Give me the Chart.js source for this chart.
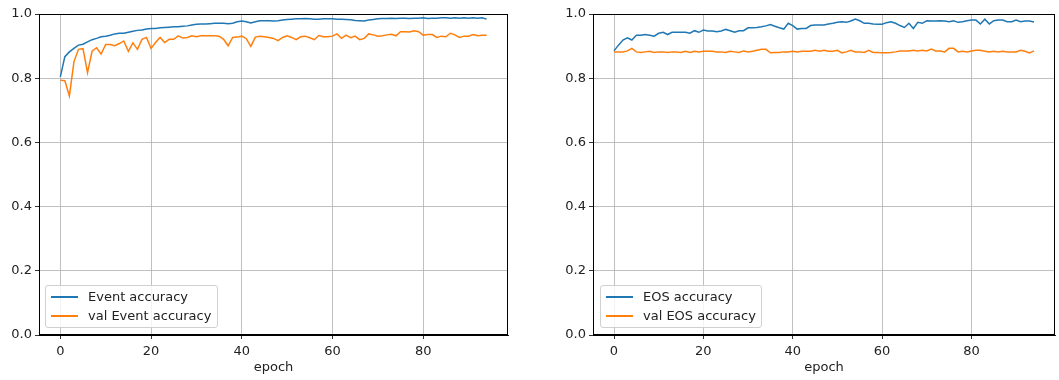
<!DOCTYPE html>
<html>
<head>
<meta charset="utf-8">
<script src="https://cdn.jsdelivr.net/npm/chart.js@4/dist/chart.umd.min.js"></script>
<style>
  html, body { margin:0; padding:0; background:#fff; width:1059px; height:380px; overflow:hidden; }
  canvas { position:absolute; top:0; }
  .leg { position:absolute; box-sizing:border-box; border:1px solid #d0d0d0; border-radius:3px;
         background:rgba(255,255,255,0.8); font-family:"DejaVu Sans", sans-serif; font-size:13px; color:#222; z-index:5; }
  .row { position:absolute; left:0; height:16px; line-height:16px; white-space:nowrap; }
  .sw { position:absolute; left:5px; top:7px; width:27px; height:2px; }
  .tx { position:absolute; left:42px; top:0; }
</style>
</head>
<body>
<canvas id="c1" width="530" height="380" style="left:0"></canvas>
<canvas id="c2" width="505" height="380" style="left:554px"></canvas>
<div class="leg" style="left:45px; top:285px; width:173px; height:43px;">
  <div class="row" style="top:3px"><div class="sw" style="background:#1f77b4"></div><div class="tx">Event accuracy</div></div>
  <div class="row" style="top:22px"><div class="sw" style="background:#ff7f0e"></div><div class="tx">val Event accuracy</div></div>
</div>
<div class="leg" style="left:600px; top:285px; width:162px; height:43px;">
  <div class="row" style="top:3px"><div class="sw" style="background:#1f77b4"></div><div class="tx">EOS accuracy</div></div>
  <div class="row" style="top:22px"><div class="sw" style="background:#ff7f0e"></div><div class="tx">val EOS accuracy</div></div>
</div>
<script>
const xTicks = [0, 20, 40, 60, 80];
const yTicks = [0.0, 0.2, 0.4, 0.6, 0.8, 1.0];
const xLabel = "epoch";

const eventAcc = [0.804,0.867,0.882,0.893,0.903,0.906,0.913,0.920,0.924,0.929,
0.931,0.934,0.938,0.940,0.940,0.943,0.946,0.949,0.950,0.953,
0.955,0.955,0.957,0.958,0.959,0.960,0.960,0.962,0.963,0.966,
0.968,0.969,0.969,0.970,0.971,0.971,0.971,0.970,0.971,0.976,
0.978,0.976,0.972,0.976,0.979,0.979,0.979,0.978,0.979,0.981,
0.983,0.984,0.985,0.985,0.986,0.985,0.984,0.984,0.985,0.985,
0.985,0.984,0.984,0.983,0.982,0.980,0.979,0.978,0.981,0.983,
0.985,0.986,0.986,0.987,0.986,0.987,0.987,0.986,0.987,0.987,
0.988,0.986,0.987,0.987,0.988,0.988,0.987,0.988,0.987,0.988,
0.987,0.988,0.987,0.988,0.984];

const valEventAcc = [0.794,0.792,0.745,0.851,0.890,0.892,0.817,0.884,0.895,0.875,
0.905,0.905,0.901,0.908,0.916,0.884,0.910,0.890,0.921,0.927,
0.893,0.911,0.927,0.911,0.921,0.921,0.932,0.925,0.927,0.932,
0.929,0.932,0.932,0.932,0.932,0.931,0.921,0.901,0.927,0.928,
0.931,0.923,0.899,0.928,0.931,0.929,0.927,0.924,0.917,0.927,
0.932,0.927,0.920,0.929,0.931,0.926,0.920,0.933,0.929,0.929,
0.931,0.938,0.924,0.934,0.926,0.931,0.920,0.924,0.938,0.935,
0.931,0.932,0.935,0.937,0.932,0.945,0.945,0.944,0.948,0.945,
0.934,0.936,0.936,0.927,0.931,0.929,0.940,0.935,0.927,0.931,
0.931,0.936,0.932,0.934,0.934];

const eosAcc = [0.885,0.903,0.919,0.926,0.919,0.934,0.934,0.936,0.934,0.931,
0.940,0.943,0.936,0.943,0.943,0.943,0.943,0.940,0.948,0.943,
0.950,0.947,0.947,0.945,0.947,0.952,0.948,0.943,0.948,0.948,
0.957,0.957,0.958,0.960,0.963,0.967,0.962,0.957,0.953,0.971,
0.964,0.953,0.955,0.955,0.964,0.966,0.966,0.966,0.969,0.971,
0.974,0.976,0.974,0.978,0.984,0.979,0.971,0.971,0.969,0.968,
0.968,0.973,0.976,0.971,0.964,0.958,0.971,0.955,0.974,0.971,
0.979,0.978,0.978,0.979,0.978,0.976,0.979,0.974,0.976,0.979,
0.981,0.981,0.969,0.984,0.969,0.979,0.981,0.981,0.976,0.976,
0.981,0.976,0.978,0.978,0.975];

const valEosAcc = [0.882,0.882,0.882,0.885,0.893,0.882,0.880,0.882,0.884,0.880,
0.882,0.882,0.880,0.882,0.882,0.880,0.884,0.880,0.884,0.882,
0.884,0.884,0.884,0.882,0.882,0.880,0.884,0.882,0.880,0.885,
0.882,0.884,0.887,0.890,0.890,0.879,0.880,0.880,0.882,0.882,
0.884,0.882,0.884,0.884,0.884,0.887,0.884,0.887,0.884,0.884,
0.887,0.879,0.882,0.887,0.882,0.882,0.880,0.887,0.880,0.880,
0.879,0.879,0.880,0.882,0.885,0.885,0.885,0.887,0.885,0.887,
0.885,0.891,0.885,0.885,0.882,0.893,0.893,0.882,0.884,0.882,
0.885,0.887,0.887,0.884,0.882,0.884,0.882,0.884,0.882,0.882,
0.882,0.887,0.884,0.879,0.885];

const FONT = { family: "DejaVu Sans", size: 13 };
const TXT = "#222";

const frame = {
  id: "frame",
  afterDatasetsDraw(chart) {
    const a = chart.chartArea, ctx = chart.ctx;
    ctx.save();
    ctx.strokeStyle = "#000";
    ctx.lineWidth = 1;
    ctx.strokeRect(Math.round(a.left) + 0.5, Math.round(a.top) + 0.5,
                   Math.round(a.right - a.left) - 1, Math.round(a.bottom - a.top) - 1);
    ctx.restore();
  }
};

function pts(arr) { return arr.map((v, i) => ({ x: i, y: v })); }

function makeChart(id, names, series, padRight) {
  new Chart(document.getElementById(id), {
    type: "line",
    data: {
      datasets: [
        { label: names[0], data: pts(series[0]), borderColor: "#1f77b4", backgroundColor: "#1f77b4",
          borderWidth: 1.5, pointRadius: 0, tension: 0, fill: false },
        { label: names[1], data: pts(series[1]), borderColor: "#ff7f0e", backgroundColor: "#ff7f0e",
          borderWidth: 1.5, pointRadius: 0, tension: 0, fill: false }
      ]
    },
    options: {
      responsive: false,
      devicePixelRatio: 1,
      animation: false,
      layout: { padding: { top: 14, right: padRight, left: 0, bottom: 0 } },
      plugins: { legend: { display: false }, tooltip: { enabled: false } },
      scales: {
        x: {
          type: "linear", min: -4.7, max: 98.7,
          afterBuildTicks: s => { s.ticks = xTicks.map(v => ({ value: v })); },
          afterFit: s => { s.height = 45; },
          ticks: { font: FONT, color: TXT, padding: 5, maxRotation: 0, autoSkip: false },
          grid: { color: "#b0b0b0", lineWidth: 0.8, tickColor: "#000", tickLength: 4, drawOnChartArea: true },
          border: { display: true, color: "#000", width: 1 },
          title: { display: true, text: xLabel, font: FONT, color: TXT, padding: { top: 0, bottom: 5 } }
        },
        y: {
          min: 0, max: 1,
          afterBuildTicks: s => { s.ticks = yTicks.map(v => ({ value: v })); },
          afterFit: s => { s.width = 39; },
          ticks: { font: FONT, color: TXT, padding: 3, callback: v => Number(v).toFixed(1) },
          grid: { color: "#b0b0b0", lineWidth: 0.8, tickColor: "#000", tickLength: 4, drawOnChartArea: true },
          border: { display: true, color: "#000", width: 1 }
        }
      }
    },
    plugins: [frame]
  });
}

makeChart("c1", ["Event accuracy", "val Event accuracy"], [eventAcc, valEventAcc], 22);
makeChart("c2", ["EOS accuracy", "val EOS accuracy"], [eosAcc, valEosAcc], 4);
</script>
</body>
</html>
